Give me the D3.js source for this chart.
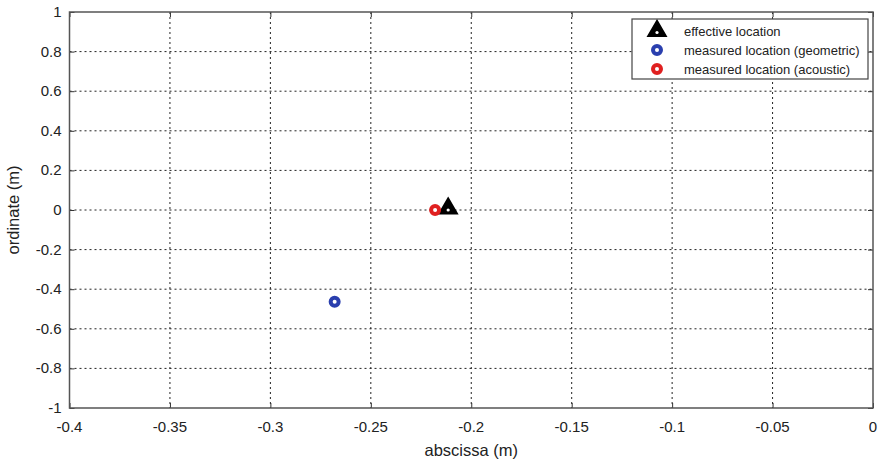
<!DOCTYPE html>
<html lang="en">
<head>
<meta charset="UTF-8">
<title>Location chart</title>
<script src="https://d3js.org/d3.v7.min.js"></script>
<style>
  body { margin: 0; background: #fff; }
  svg { display: block; font-family: "Liberation Sans", Arial, sans-serif; }
  .grid line { stroke: #222; stroke-dasharray: 2,3; stroke-width: 1; }
  .tick-label { font-size: 15px; fill: #222; }
</style>
</head>
<body>
<svg width="882" height="466"></svg>
<script>
// tick values
const xTicks = [-0.4, -0.35, -0.3, -0.25, -0.2, -0.15, -0.1, -0.05, 0];
const yTicks = [1, 0.8, 0.6, 0.4, 0.2, 0, -0.2, -0.4, -0.6, -0.8, -1];

// series
const seriesNames = ["effective location", "measured location (geometric)", "measured location (acoustic)"];
const seriesX = [-0.2115, -0.268, -0.218];
const seriesY = [0.0, -0.463, 0.0];
const seriesColor = ["#000000", "#2a3fae", "#e02020"];
const seriesShape = ["triangle", "circle", "circle"];

const svg = d3.select("svg");
const mLeft = 69.5, mRight = 873, mTop = 12, mBottom = 408;

const x = d3.scaleLinear().domain([-0.4, 0]).range([mLeft, mRight]);
const y = d3.scaleLinear().domain([-1, 1]).range([mBottom, mTop]);

// grid
const grid = svg.append("g").attr("class", "grid");
grid.selectAll(".vx").data(xTicks.slice(1, -1)).join("line")
  .attr("x1", d => x(d)).attr("x2", d => x(d)).attr("y1", mTop).attr("y2", mBottom);
grid.selectAll(".hy").data(yTicks.slice(1, -1)).join("line")
  .attr("y1", d => y(d)).attr("y2", d => y(d)).attr("x1", mLeft).attr("x2", mRight);

// axes (ticks inward like matlab)
const fmt = d => String(d);
svg.append("g").attr("transform", `translate(0,${mBottom})`)
  .call(d3.axisTop(x).tickValues(xTicks).tickSize(5).tickFormat(""))
  .call(g => g.select(".domain").remove());
svg.append("g").attr("transform", `translate(0,${mTop})`)
  .call(d3.axisBottom(x).tickValues(xTicks).tickSize(5).tickFormat(""))
  .call(g => g.select(".domain").remove());
svg.append("g").attr("transform", `translate(${mLeft},0)`)
  .call(d3.axisRight(y).tickValues(yTicks).tickSize(5).tickFormat(""))
  .call(g => g.select(".domain").remove());
svg.append("g").attr("transform", `translate(${mRight},0)`)
  .call(d3.axisLeft(y).tickValues(yTicks).tickSize(5).tickFormat(""))
  .call(g => g.select(".domain").remove());
svg.selectAll(".tick line").attr("stroke", "#333");

// box
svg.append("rect").attr("x", mLeft).attr("y", mTop)
  .attr("width", mRight - mLeft).attr("height", mBottom - mTop)
  .attr("fill", "none").attr("stroke", "#555").attr("stroke-width", 1.5);

// tick labels
svg.selectAll(".xl").data(xTicks).join("text")
  .attr("class", "tick-label").attr("x", d => x(d)).attr("y", mBottom + 24)
  .attr("text-anchor", "middle").text(fmt);
svg.selectAll(".yl").data(yTicks).join("text")
  .attr("class", "tick-label").attr("x", mLeft - 8).attr("y", d => y(d) + 5)
  .attr("text-anchor", "end").text(fmt);

// axis titles
svg.append("text").attr("x", (mLeft + mRight) / 2).attr("y", 456)
  .attr("text-anchor", "middle").attr("font-size", 16.5).attr("fill", "#222").text("abscissa (m)");
svg.append("text").attr("transform", `translate(19,${(mTop + mBottom) / 2}) rotate(-90)`)
  .attr("text-anchor", "middle").attr("font-size", 16.5).attr("fill", "#222").text("ordinate (m)");

const tri = d3.symbol().type(d3.symbolTriangle).size(120);
function marker(g, shape, color) {
  if (shape === "triangle") {
    g.append("path").attr("d", tri()).attr("transform", "translate(0,0)")
      .attr("fill", color).attr("stroke", color).attr("stroke-width", 2.5).attr("stroke-linejoin", "miter");
    g.append("circle").attr("r", 1.6).attr("cy", 1.5).attr("fill", "#fff");
  } else {
    g.append("circle").attr("r", 4).attr("fill", "#fff")
      .attr("stroke", color).attr("stroke-width", 4);
  }
}

// points
const order = [0, 1, 2];
order.forEach(i => {
  const g = svg.append("g").attr("transform", `translate(${x(seriesX[i])},${y(seriesY[i]) - (seriesShape[i] === "triangle" ? 1.5 : 0)})`);
  marker(g, seriesShape[i], seriesColor[i]);
});

// legend
const lg = svg.append("g");
lg.append("rect").attr("x", 632).attr("y", 19).attr("width", 236).attr("height", 60)
  .attr("fill", "#fff").attr("stroke", "#444").attr("stroke-width", 1.2);
seriesNames.forEach((name, i) => {
  const yy = 31 + i * 19;
  const g = lg.append("g").attr("transform", `translate(657,${yy})`);
  marker(g, seriesShape[i], seriesColor[i]);
  lg.append("text").attr("x", 684).attr("y", yy + 4.5).attr("font-size", 13)
    .attr("fill", "#222").text(name);
});
</script>
</body>
</html>
